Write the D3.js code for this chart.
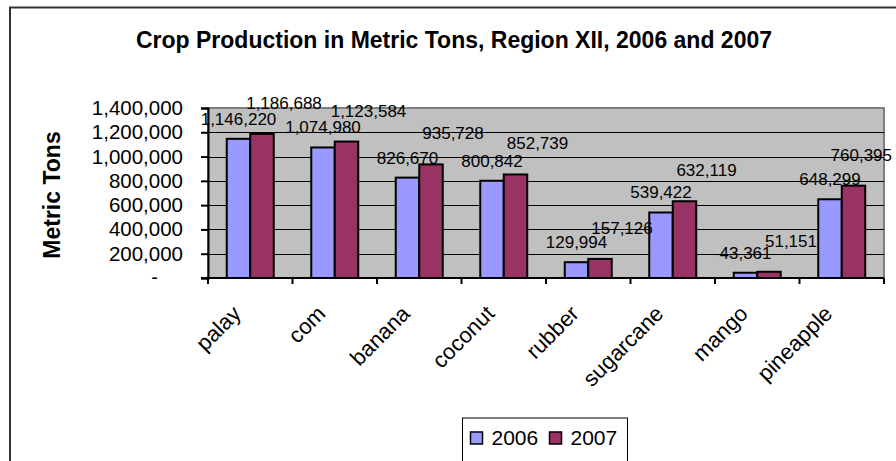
<!DOCTYPE html>
<html>
<head>
<meta charset="utf-8">
<script src="https://cdn.jsdelivr.net/npm/d3@7"></script>
<style>
  body { margin: 0; background: #fff; }
  text { font-family: "Liberation Sans", Arial, sans-serif; }
</style>
</head>
<body>
<div id="chart"></div>
<script>
// data
var crops = ["palay", "com", "banana", "coconut", "rubber", "sugarcane", "mango", "pineapple"];
var years = ["2006", "2007"];
var prod2006 = [1146220, 1074980, 826670, 800842, 129994, 539422, 43361, 648299];
var prod2007 = [1186688, 1123584, 935728, 852739, 157126, 632119, 51151, 760395];
var yTicks = [0, 200000, 400000, 600000, 800000, 1000000, 1200000, 1400000];

var colors = { "2006": "#9999FF", "2007": "#993366" };

var svgWidth = 896;
var svgHeight = 461;
var margin = { top: 108, right: 12, bottom: 183, left: 208 };
var width = svgWidth - margin.left - margin.right;
var height = svgHeight - margin.top - margin.bottom;

var svg = d3.select("#chart")
  .append("svg")
  .attr("width", svgWidth)
  .attr("height", svgHeight);

// outer chart frame (only top and left show in the picture)
svg.append("path")
  .attr("d", "M10,470 L10,7.5 L900,7.5")
  .attr("fill", "none")
  .attr("stroke", "#333")
  .attr("stroke-width", 2);

// title
svg.append("text")
  .attr("x", 454)
  .attr("y", 48)
  .attr("text-anchor", "middle")
  .attr("font-size", 23)
  .attr("font-weight", "bold")
  .text("Crop Production in Metric Tons, Region XII, 2006 and 2007");

var chartGroup = svg.append("g")
  .attr("transform", `translate(${margin.left}, ${margin.top})`);

var xScale = d3.scaleBand()
  .domain(crops)
  .range([0, width]);

var yScale = d3.scaleLinear()
  .domain([0, 1400000])
  .range([height, 0]);

// plot area background
chartGroup.append("rect")
  .attr("width", width)
  .attr("height", height)
  .attr("fill", "#C0C0C0")
  .attr("stroke", "#808080")
  .attr("stroke-width", 2);

// gridlines
chartGroup.selectAll("line.grid")
  .data(yTicks.slice(1, -1))
  .enter()
  .append("line")
  .attr("class", "grid")
  .attr("x1", 0)
  .attr("x2", width)
  .attr("y1", d => Math.round(yScale(d)) + 0.5)
  .attr("y2", d => Math.round(yScale(d)) + 0.5)
  .attr("stroke", "#000")
  .attr("stroke-width", 1);

// bars
var barW = xScale.bandwidth() * 0.278;
var series = years.map(function(y, i) {
  var vals = i === 0 ? prod2006 : prod2007;
  return crops.map(function(c, j) { return { crop: c, year: y, value: vals[j] }; });
});

var sub = d3.scaleBand().domain(years).range([-barW, barW]);

series.forEach(function(s) {
  chartGroup.selectAll(null)
    .data(s)
    .enter()
    .append("rect")
    .attr("x", d => xScale(d.crop) + xScale.bandwidth() / 2 + sub(d.year))
    .attr("y", d => yScale(d.value))
    .attr("width", sub.bandwidth())
    .attr("height", d => height - yScale(d.value))
    .attr("fill", colors[s[0].year])
    .attr("stroke", "#000")
    .attr("stroke-width", 2);
});

// axes
var leftAxis = d3.axisLeft(yScale)
  .tickValues(yTicks)
  .tickSize(7)
  .tickFormat(d => d === 0 ? "" : d3.format(",")(d));

var yAxisG = chartGroup.append("g").call(leftAxis);
yAxisG.select(".domain").attr("stroke", "#000").attr("stroke-width", 2);
yAxisG.selectAll(".tick line").attr("stroke", "#000").attr("stroke-width", 2);
yAxisG.selectAll(".tick text")
  .attr("x", -25)
  .attr("font-size", 20.5)
  .attr("font-family", "Liberation Sans, Arial, sans-serif")
  .attr("fill", "#000");

// accounting-style zero
chartGroup.append("text")
  .attr("x", -50)
  .attr("y", yScale(0))
  .attr("dy", "0.32em")
  .attr("text-anchor", "end")
  .attr("font-size", 20)
  .text("-");

var xAxisG = chartGroup.append("g")
  .attr("transform", `translate(0, ${height})`);
xAxisG.append("line")
  .attr("x1", -7).attr("x2", width)
  .attr("y1", 0).attr("y2", 0)
  .attr("stroke", "#000").attr("stroke-width", 2);
xAxisG.selectAll("line.xt")
  .data(crops.concat(["end"]))
  .enter()
  .append("line")
  .attr("class", "xt")
  .attr("x1", (d, i) => i * xScale.step())
  .attr("x2", (d, i) => i * xScale.step())
  .attr("y1", 0).attr("y2", 6)
  .attr("stroke", "#000").attr("stroke-width", 2);

xAxisG.selectAll("text.cat")
  .data(crops)
  .enter()
  .append("text")
  .attr("class", "cat")
  .attr("text-anchor", "end")
  .attr("font-size", 22)
  .attr("transform", d => `translate(${xScale(d) + xScale.bandwidth() / 2 - 8}, 37) rotate(-45)`)
  .text(d => d);

// data labels
var fmt = d3.format(",");
chartGroup.selectAll("text.v06")
  .data(series[0])
  .enter()
  .append("text")
  .attr("class", "v06")
  .attr("text-anchor", "middle")
  .attr("font-size", 17)
  .attr("x", d => xScale(d.crop) + xScale.bandwidth() / 2 - barW / 2)
  .attr("y", d => yScale(d.value) - 14)
  .text(d => fmt(d.value));

chartGroup.selectAll("text.v07")
  .data(series[1])
  .enter()
  .append("text")
  .attr("class", "v07")
  .attr("text-anchor", "middle")
  .attr("font-size", 17)
  .attr("x", d => xScale(d.crop) + xScale.bandwidth() / 2 + barW / 2 + 22)
  .attr("y", d => yScale(d.value) - 25)
  .text(d => fmt(d.value))
  // keep labels inside the picture like Excel does
  .attr("x", function(d) {
    var x = +d3.select(this).attr("x");
    var half = this.getComputedTextLength() / 2;
    return Math.min(x, svgWidth - margin.left - half - 4);
  });

// y axis title
svg.append("text")
  .attr("transform", "translate(60, 195) rotate(-90)")
  .attr("text-anchor", "middle")
  .attr("font-size", 23)
  .attr("font-weight", "bold")
  .text("Metric Tons");

// legend
var legend = svg.append("g").attr("transform", "translate(462.5, 418)");
legend.append("rect")
  .attr("width", 165)
  .attr("height", 50)
  .attr("fill", "#fff")
  .attr("stroke", "#000")
  .attr("stroke-width", 1);

var legendX = [8, 87];
years.forEach(function(y, i) {
  legend.append("rect")
    .attr("x", legendX[i])
    .attr("y", 14)
    .attr("width", 12)
    .attr("height", 12)
    .attr("fill", colors[y])
    .attr("stroke", "#000")
    .attr("stroke-width", 1.5);
  legend.append("text")
    .attr("x", legendX[i] + 21)
    .attr("y", 27)
    .attr("font-size", 21)
    .text(y);
});
</script>
</body>
</html>
